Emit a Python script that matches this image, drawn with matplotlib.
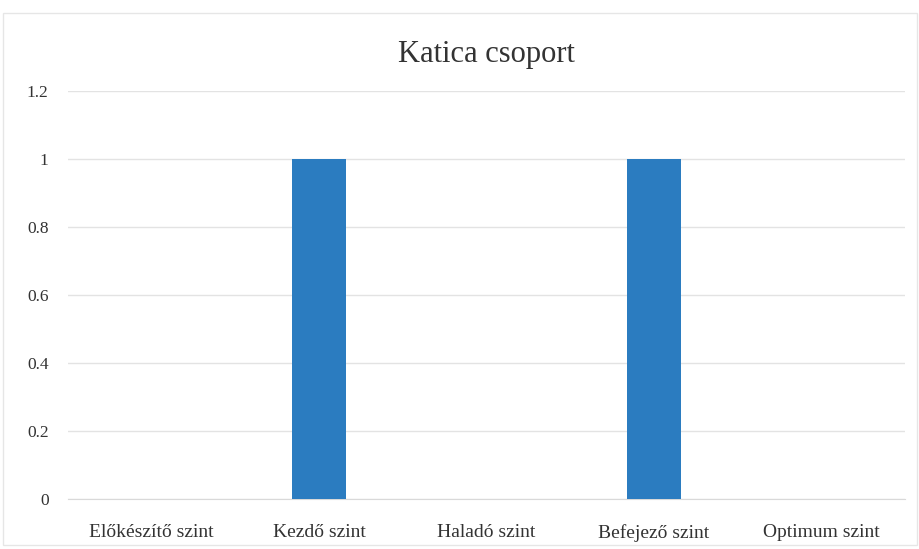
import matplotlib.pyplot as plt

# Chart data
categories = ['Előkészítő szint', 'Kezdő szint', 'Haladó szint', 'Befejező szint', 'Optimum szint']
values = [0, 1, 0, 1, 0]
yticks = [0, 0.2, 0.4, 0.6, 0.8, 1, 1.2]
ytick_labels = ['0', '0.2', '0.4', '0.6', '0.8', '1', '1.2']

plt.rcParams['font.family'] = ['Liberation Serif', 'DejaVu Serif']

fig = plt.figure(figsize=(9.2, 5.49), dpi=100)
ax = fig.add_axes([0.074, 0.091, 0.91, 0.743])

ax.bar(range(len(categories)), values, width=0.32, color='#2B7CC0', zorder=3)

ax.set_xlim(-0.5, len(categories) - 0.5)
ax.set_ylim(0, 1.2)
ax.set_yticks(yticks)
ax.set_yticklabels(ytick_labels, fontsize=12.5, color='#333333')
ax.set_xticks(range(len(categories)))
ax.set_xticklabels(categories, fontsize=14, color='#333333')
ax.tick_params(axis='x', length=0, pad=18)
ax.tick_params(axis='y', length=0, pad=14)

ax.grid(axis='y', color='#e3e3e3', linewidth=1, zorder=0)
for side in ['top', 'right', 'left']:
    ax.spines[side].set_visible(False)
ax.spines['bottom'].set_color('#d9d9d9')

ax.set_title('Katica csoport', fontsize=22, color='#333333', pad=21)

# light outer border of the chart area
fig.patches.append(plt.Rectangle((0.003, 0.008), 0.994, 0.968, transform=fig.transFigure,
                                 fill=False, edgecolor='#e6e6e6', linewidth=1))

plt.savefig('out.png', dpi=100)
